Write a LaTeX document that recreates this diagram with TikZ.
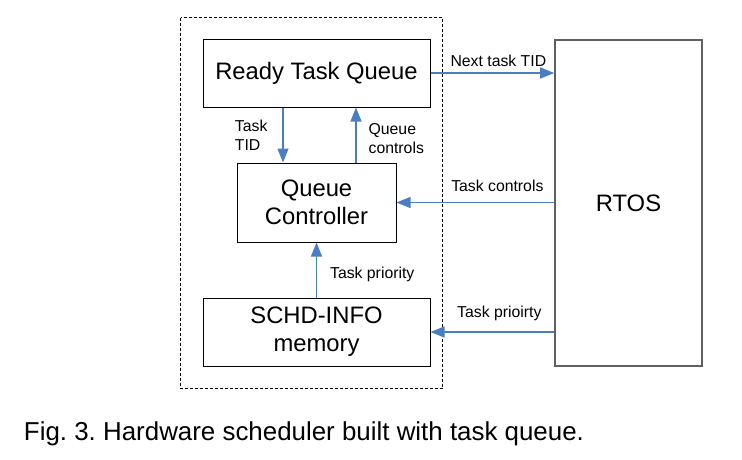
\documentclass[tikz,border=0pt]{standalone}
\usepackage{fontspec}
\setmainfont{Liberation Sans}
\usetikzlibrary{arrows.meta,positioning}
\definecolor{arrowBlue}{RGB}{74,126,193}
\definecolor{rtosGray}{RGB}{96,96,96}
\frenchspacing
\begin{document}
\begin{tikzpicture}
[x=1pt,y=-1pt,
  blockDecorate/.style={shape=rectangle,draw,line width=1pt,inner sep=0pt,
    font=\fontsize{23.8}{28}\selectfont,align=center},
  lineDecorate/.style={draw=arrowBlue,line width=1.2pt,
    -{Triangle[length=14pt,width=11pt]},fill=arrowBlue},
  labelDecorate/.style={font=\fontsize{15.8}{19}\selectfont,align=left,
    inner sep=2pt,fill=none,text=black}]
\useasboundingbox (0,0) rectangle (742,459);
%% dashed frame
\draw[line width=0.9pt,dash pattern=on 3pt off 2pt] (180.5,17.5) rectangle (442.5,388.5);
%% blocks
\foreach \nodename/\x/\y/\w/\h/\txt in {
  rtq/316.5/73/227/68/{Ready Task Queue},
  qc/316.5/202.5/159/79/{Queue\\Controller},
  mem/316.5/332/227/68/{SCHD-INFO\\memory}}
{
  \node (\nodename) at (\x,\y) [blockDecorate,minimum width=\w pt,minimum height=\h pt] {\txt};
}
\node (rtos) at (628.5,203) [blockDecorate,draw=rtosGray,line width=1.6pt,
  minimum width=147pt,minimum height=326pt] {RTOS};
%% connectors
\path
  (rtq.east) edge[lineDecorate] node[labelDecorate,above=4pt,xshift=6pt] {Next task TID} (rtq.east -| rtos.west)
  (rtos.west |- qc.east) edge[lineDecorate] node[labelDecorate,above=8pt,xshift=22pt] {Task controls} (qc.east)
  (rtos.west |- mem.east) edge[lineDecorate] node[labelDecorate,above=9pt,xshift=7pt] {Task prioirty} (mem.east)
  ([xshift=-33.5pt]rtq.south) edge[lineDecorate] node[labelDecorate,left=13pt] {Task\\TID} ([xshift=-33.5pt]qc.north)
  ([xshift=39.5pt]qc.north) edge[lineDecorate] node[labelDecorate,right=10pt,yshift=-4pt] {Queue\\controls} ([xshift=39.5pt]rtq.south)
  (mem.north) edge[lineDecorate] node[labelDecorate,right=11pt,yshift=-4pt] {Task priority} (qc.south);
%% caption
\node (caption) at (304,440) [anchor=base,inner sep=0pt,font=\fontsize{25.9}{30}\selectfont]
  {Fig. 3. Hardware scheduler built with task queue.};
\end{tikzpicture}
\end{document}
